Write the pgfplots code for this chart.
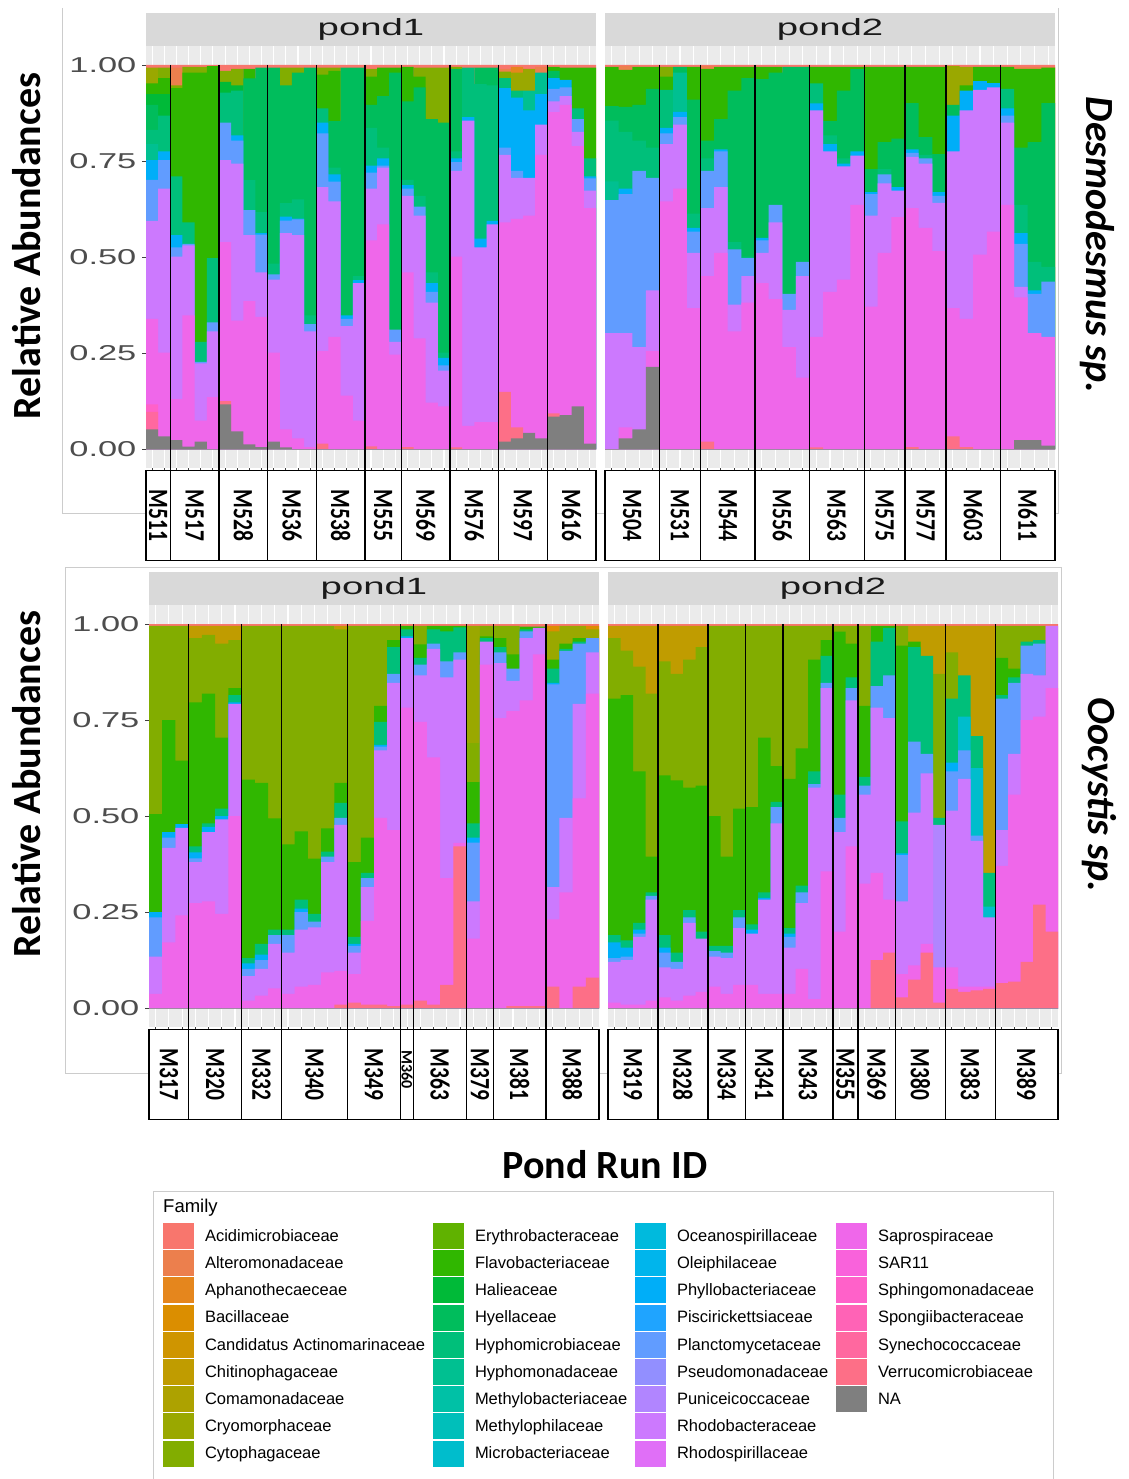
\documentclass[border=0pt]{standalone}
\usepackage{pgfplots}
\pgfplotsset{compat=1.18}
\usepackage{pgfplotstable}
\usepackage{graphicx}
\usepackage{fontspec}
\setmainfont{Liberation Sans}
\newfontfamily\calib{Carlito}

% family colours (hue palette, 33 families + NA)
\definecolor{cAcid}{HTML}{F8766D}
\definecolor{cAlte}{HTML}{EC7F4D}
\definecolor{cApha}{HTML}{E5861D}
\definecolor{cBaci}{HTML}{DB8E00}
\definecolor{cCand}{HTML}{CF9500}
\definecolor{cChit}{HTML}{C09C00}
\definecolor{cComa}{HTML}{ADA200}
\definecolor{cCryo}{HTML}{9AA800}
\definecolor{cCyto}{HTML}{82AD00}
\definecolor{cEryt}{HTML}{60B200}
\definecolor{cFlav}{HTML}{30B700}
\definecolor{cHali}{HTML}{00BA38}
\definecolor{cHyel}{HTML}{00BD5C}
\definecolor{cHmic}{HTML}{00BF7A}
\definecolor{cHmon}{HTML}{00C091}
\definecolor{cMbac}{HTML}{00C1A6}
\definecolor{cMphi}{HTML}{00BFBA}
\definecolor{cMicr}{HTML}{00BDCC}
\definecolor{cOcea}{HTML}{00BADD}
\definecolor{cOlei}{HTML}{00B5EC}
\definecolor{cPhyl}{HTML}{00AEF8}
\definecolor{cPisc}{HTML}{1FA4FF}
\definecolor{cPlan}{HTML}{619CFF}
\definecolor{cPseu}{HTML}{928FFF}
\definecolor{cPuni}{HTML}{B185FF}
\definecolor{cRhob}{HTML}{CC79FE}
\definecolor{cRhsp}{HTML}{E06FF7}
\definecolor{cSapr}{HTML}{EF67EA}
\definecolor{cSAR}{HTML}{F962DB}
\definecolor{cSphi}{HTML}{FF61C9}
\definecolor{cSpon}{HTML}{FF63B6}
\definecolor{cSyne}{HTML}{FF689F}
\definecolor{cVerr}{HTML}{FD6F87}
\definecolor{cNA}{HTML}{7F7F7F}

\definecolor{panelbg}{HTML}{EBEBEB}
\definecolor{stripbg}{HTML}{D9D9D9}
\definecolor{stripfg}{HTML}{1A1A1A}
\definecolor{tickgrey}{HTML}{4D4D4D}
\definecolor{framegrey}{HTML}{CCCCCC}

% cumulative upper edge of each family within every sample bar (0 = absent)
\pgfplotstableread{
x Acid Alte Apha Baci Chit Cryo Cyto Flav Hali Hyel Hmic Hmon Micr Phyl Plan Puni Rhob Sapr Sphi Syne Verr NA
1 1 0 0 0 0 .993 0 .952 .924 .896 .831 .794 0 .752 .701 0 .594 .339 .116 .097 0 .051
2 1 0 0 0 0 0 .993 .966 .924 0 .868 0 0 .775 .752 0 .678 .251 0 0 0 .033
3 1 .993 0 0 0 0 .947 .94 0 0 .71 0 0 .557 .525 0 .501 .13 0 0 0 .023
4 1 0 0 0 0 0 .995 .98 0 0 .59 0 0 0 .534 0 .53 .348 0 0 0 .006
5 1 0 0 0 0 0 .995 .98 0 0 .279 0 0 0 .227 0 .223 .074 0 0 0 .019
6 1 0 0 0 0 0 0 .997 0 0 .497 0 0 0 .33 0 .306 .135 0 0 0 0
7 1 0 0 0 0 0 .985 0 .956 0 .928 0 0 0 .85 0 .752 .539 0 0 .125 .116
8 1 0 0 0 0 0 .99 0 .947 0 .933 0 0 .817 .803 0 .743 .334 0 0 0 .046
9 1 0 0 0 0 0 0 .99 0 .965 .70 0 0 0 .622 0 .557 .385 0 0 0 .012
10 1 0 0 0 0 0 0 0 0 .993 .617 0 0 .562 .558 0 .46 .344 0 0 0 .005
11 1 0 0 0 0 0 0 0 0 .993 .483 0 0 0 .455 0 .441 .251 0 0 0 .019
12 1 0 0 0 0 0 .993 0 0 .947 .64 0 0 .605 .595 0 .562 .051 0 0 0 .004
13 1 0 0 0 0 0 .993 0 0 .98 .65 0 0 .60 .598 0 .557 .028 0 0 0 0
14 1 0 0 0 0 0 0 0 0 .993 .348 0 0 0 .325 0 .306 .005 0 0 0 0
15 1 0 0 0 0 0 .993 .975 0 0 .887 0 0 .85 .822 0 .682 .255 0 0 .014 0
16 1 0 0 0 0 0 .993 .985 0 .854 .733 0 0 .715 .696 0 .645 .292 0 0 0 0
17 1 0 0 0 0 0 0 0 0 .993 0 0 0 .348 .339 0 .32 .139 0 0 0 0
18 1 0 0 0 0 0 0 0 0 .993 .45 0 0 .44 0 0 .432 .074 0 0 0 0
19 1 0 0 0 0 0 .99 .97 0 .896 .836 0 0 .738 .72 0 .678 .543 0 0 .007 0
20 1 0 0 0 0 0 0 .993 0 .919 .785 0 0 .757 .738 0 .733 .585 0 0 0 0
21 1 0 0 0 0 0 0 .993 0 .98 0 0 0 0 .311 0 .279 .246 0 0 0 0
22 1 0 0 0 0 0 0 .995 0 .905 .701 0 0 .687 .678 0 .659 .46 0 0 .005 0
23 1 0 0 0 0 0 .993 .97 0 .942 .659 0 0 0 .631 0 .608 .288 0 0 0 0
24 1 0 0 0 0 0 .993 0 0 .859 .46 0 0 .432 .409 0 .381 .121 0 0 0 0
25 1 0 0 0 0 0 .993 0 0 .85 .251 0 0 .237 .218 0 .204 .111 0 0 0 0
26 1 0 0 0 0 0 .995 0 0 .99 .775 0 0 .757 .747 0 .724 .501 0 0 .004 0
27 1 0 0 0 0 0 0 0 0 0 .993 0 0 .864 0 0 .855 .06 0 0 0 0
28 1 0 0 0 0 0 0 0 0 .993 .95 0 0 .548 0 0 .525 .07 0 0 0 0
29 1 0 0 0 0 0 0 0 0 .993 .947 0 0 .594 0 0 .585 .07 0 0 0 0
30 1 .99 0 0 0 0 .983 0 0 0 .966 0 0 .94 .785 0 .766 .59 0 0 .149 .019
31 1 0 .995 0 0 .98 0 0 0 0 .933 0 0 .915 .724 0 .706 .599 0 0 .056 .028
32 1 0 0 0 0 .99 0 0 0 0 0 .933 0 .882 0 0 .706 .608 0 0 0 .042
33 1 .995 0 0 0 0 0 0 0 0 0 .98 0 .924 0 0 .845 .766 0 0 0 .028
34 1 0 0 0 0 0 0 .995 0 .985 0 0 0 .966 .938 0 .905 .877 0 0 .093 .084
35 1 0 0 0 0 0 0 .993 0 0 0 0 0 .961 .942 0 .919 .896 0 0 0 .088
36 1 0 0 0 0 0 0 .993 0 0 .887 0 0 0 .859 0 .826 .789 0 0 0 .111
37 1 0 0 0 0 0 0 .993 0 0 .757 0 0 .71 .705 0 .673 .627 0 0 0 .014
}\tabA

\pgfplotstableread{
x Acid Alte Apha Baci Chit Cryo Cyto Flav Hali Hyel Hmic Hmon Micr Phyl Plan Puni Rhob Sapr Sphi Syne Verr NA
1 1 0 0 0 0 0 0 .995 0 .893 .855 .697 0 0 .648 0 .302 0 0 0 0 0
2 1 .998 0 0 0 0 0 .987 0 .891 .826 0 0 .678 .664 0 .302 .056 0 0 0 .028
3 1 0 0 0 0 0 0 .995 0 .896 .803 0 0 0 .724 0 .265 0 0 0 0 .051
4 1 0 0 0 0 0 0 .995 0 .938 .785 0 0 0 .706 0 .413 .255 0 0 0 .214
5 1 0 0 0 0 0 .995 .97 0 0 .935 0 0 .836 .822 0 .794 .645 0 0 0 0
6 1 0 0 0 0 0 0 0 0 .995 0 .98 0 .878 .864 0 .845 .678 0 0 0 0
7 1 0 0 0 0 0 0 .995 0 .91 .613 0 0 .576 .566 0 .511 .367 0 0 0 0
8 1 .997 0 0 0 0 0 .99 0 .803 .757 0 0 0 .724 0 .627 .45 0 0 .019 0
9 1 0 0 0 0 0 0 .995 0 .859 0 0 0 .78 .775 0 .682 .511 0 0 0 0
10 1 0 0 0 0 0 0 .995 0 .933 .539 0 0 0 .52 0 .376 .306 0 0 0 0
11 1 0 0 0 0 0 0 .995 0 .966 .501 0 0 0 .497 0 .45 .381 0 0 0 0
12 1 0 0 0 0 0 0 .995 0 .963 0 0 0 .55 .543 0 .511 .432 0 0 0 0
13 1 0 0 0 0 0 0 .995 0 .98 0 0 0 0 .636 0 .59 .39 0 0 0 0
14 1 0 0 0 0 0 0 0 0 .995 0 0 0 0 .404 0 .362 .265 0 0 0 0
15 1 0 0 0 0 0 0 0 0 .995 0 0 0 0 .487 0 .45 .186 0 0 0 0
16 1 0 0 0 0 0 0 .995 0 0 .952 0 0 .9 0 0 .882 .292 0 0 .004 0
17 1 0 0 0 0 0 0 .995 0 .854 .817 0 0 .794 0 0 .775 .409 0 0 0 0
18 1 0 0 0 0 0 0 .995 0 .933 .757 0 0 .743 0 0 .736 .441 0 0 0 0
19 1 0 0 0 0 0 0 .995 0 .989 0 0 0 .775 0 0 .764 .636 0 0 0 0
20 1 0 0 0 0 0 0 .995 0 .729 0 0 0 .669 .664 0 .608 .371 0 0 0 0
21 1 0 0 0 0 0 0 .995 0 .799 .729 0 0 0 .715 0 .692 .511 0 0 0 0
22 1 0 0 0 0 0 0 .995 0 .808 0 0 0 .682 0 0 .673 .604 0 0 0 0
23 1 0 0 0 0 0 0 .995 0 .901 0 0 0 .78 .771 0 .761 .627 0 0 .005 0
24 1 0 0 0 0 0 0 .995 0 .812 .766 0 0 0 .757 0 .743 .576 0 0 0 0
25 1 0 0 0 0 0 0 .995 0 .768 0 0 0 .669 .659 0 .641 .515 0 0 0 0
26 1 0 0 0 0 .998 0 0 0 .896 0 0 0 .868 0 0 .775 .367 0 0 .033 0
27 1 0 0 0 0 .995 0 .947 0 0 0 0 0 .933 0 0 .882 .339 0 0 .005 0
28 1 0 0 0 0 0 0 .995 0 0 0 0 0 .958 0 0 .935 .506 0 0 0 0
29 1 0 0 0 0 0 0 .995 0 0 0 0 0 .953 0 0 .942 .566 0 0 0 0
30 1 0 0 0 0 0 0 .995 0 0 .938 0 0 .887 .868 0 .85 .636 0 0 0 0
31 1 .995 0 0 0 0 0 .99 0 .785 .636 0 0 .562 .534 0 .422 .395 0 0 0 .023
32 1 .995 0 0 0 0 0 .99 0 .799 .487 0 0 .413 .404 0 0 .302 0 0 0 .023
33 1 .995 0 0 0 0 0 .993 0 .901 .474 0 0 0 .436 0 0 .292 0 0 0 .009
}\tabB

\pgfplotstableread{
x Acid Alte Apha Baci Chit Cryo Cyto Flav Hali Hyel Hmic Hmon Micr Phyl Plan Puni Rhob Sapr Sphi Syne Verr NA
1 1 0 0 0 0 0 .995 .505 0 0 0 0 0 .25 .236 0 .134 .037 0 0 0 0
2 1 0 0 0 0 0 .995 .75 0 0 0 0 0 .458 .444 0 .417 .171 0 0 0 0
3 1 0 0 0 0 0 .995 .644 0 0 0 0 0 .479 0 0 .469 .241 0 0 0 0
4 1 0 0 0 .995 0 .963 .796 0 0 .421 0 0 .405 .39 0 .38 .273 0 0 0 0
5 1 0 0 0 .995 0 .972 .819 0 0 .481 0 0 .472 0 0 .458 .278 0 0 0 0
6 1 0 0 0 .995 0 .949 .704 0 0 .519 0 0 .5 0 0 .491 .245 0 0 0 0
7 1 0 0 0 .995 0 .958 .833 0 0 .815 0 0 .796 0 0 .792 .5 0 0 0 0
8 1 0 0 0 0 0 .995 .595 0 0 .13 0 0 .116 .102 0 .083 .019 0 0 0 0
9 1 0 0 0 0 0 .995 .586 0 0 .167 0 0 .139 .125 0 .102 .032 0 0 0 0
10 1 0 0 0 0 0 .995 .494 0 0 .204 0 0 0 .19 0 .167 .051 0 0 0 0
11 1 0 0 0 0 0 .995 .426 0 0 .204 0 0 0 .19 0 .144 .037 0 0 0 0
12 1 0 0 0 0 0 .995 .46 0 0 .282 0 0 .259 .25 0 .204 .056 0 0 0 0
13 1 0 0 0 0 0 .995 .389 0 0 .245 0 0 0 .225 0 .21 .06 0 0 0 0
14 1 0 0 0 0 0 .995 .468 0 0 .407 0 0 0 .394 0 .38 .093 0 0 0 0
15 1 0 0 0 .995 0 .986 .586 0 0 .534 0 0 0 .495 0 .477 .097 0 0 .009 0
16 1 0 0 0 0 0 .995 .38 0 0 .185 0 0 .167 .162 0 .144 .088 0 0 .014 0
17 1 0 0 0 0 0 .995 .444 0 0 .352 0 0 0 .338 0 .315 .227 0 0 .009 0
18 1 0 0 0 0 0 .995 .787 0 0 .745 0 0 .685 .681 0 .671 .495 0 0 .009 0
19 1 0 0 0 0 0 .995 .958 0 0 .94 0 0 0 .87 0 .847 .463 0 0 .005 0
20 1 0 0 0 0 0 0 .995 0 0 .986 0 0 .968 0 0 .963 .782 0 0 .009 0
21 1 0 0 0 0 0 .995 .947 0 0 .912 0 0 0 .894 0 .866 .745 0 0 .019 0
22 1 0 0 0 0 0 0 .995 0 0 .986 0 0 0 .949 0 .935 .653 0 0 .009 0
23 1 0 0 0 0 0 0 .995 0 0 .981 0 0 0 .903 0 .861 .338 0 0 .06 0
24 1 0 0 0 0 0 0 .995 0 0 .991 0 0 0 .926 0 .907 .43 0 0 .421 0
25 1 0 0 0 0 .995 .69 .588 0 0 .481 0 0 .444 .431 0 .278 .181 0 0 0 0
26 1 0 0 0 0 0 .995 .968 0 0 .963 0 0 0 0 0 .954 .894 0 0 0 0
27 1 0 0 0 0 0 .995 .963 0 0 .94 0 0 0 .926 0 .898 .755 0 0 0 0
28 1 0 0 0 0 0 .995 .921 0 0 0 0 0 0 .884 0 .852 .773 0 0 .005 0
29 1 0 0 0 0 0 0 .993 0 0 .986 0 0 0 .981 0 .963 .801 0 0 .005 0
30 1 0 0 0 0 0 0 .993 0 0 0 0 0 0 0 0 .99 .921 0 0 .005 0
31 1 0 0 .995 0 .981 0 .907 0 0 .884 0 0 .847 .843 0 .315 .231 0 0 .056 0
32 1 0 0 0 0 .995 0 .949 0 0 .935 0 0 0 .93 0 .495 .301 0 0 0 0
33 1 0 0 0 0 .995 0 .963 0 0 .954 0 0 0 .949 0 .792 .546 0 0 .056 0
34 1 0 0 .995 0 .986 0 0 0 0 0 0 0 0 .963 0 .926 .819 0 0 .079 0
}\tabC

\pgfplotstableread{
x Acid Alte Apha Baci Chit Cryo Cyto Flav Hali Hyel Hmic Hmon Micr Phyl Plan Puni Rhob Sapr Sphi Syne Verr NA
1 1 0 0 0 .995 0 .963 .806 0 0 .19 0 0 .171 .13 0 .12 .014 0 0 0 0
2 1 0 0 0 .995 0 .931 .815 0 0 .176 0 0 .157 .134 0 .125 .009 0 0 0 0
3 1 0 0 0 .995 0 .889 .616 0 0 .222 0 0 .204 .194 0 .185 .009 0 0 0 0
4 1 0 0 0 .995 0 .819 .394 0 0 .301 0 0 0 .292 0 .282 .019 0 0 0 0
5 1 0 0 0 .995 0 .903 .606 0 0 .19 0 0 .157 .144 0 .106 .028 0 0 0 0
6 1 0 0 0 .995 0 .87 .593 0 0 .144 0 0 0 .12 0 .102 .019 0 0 0 0
7 1 0 0 0 .995 0 .907 .574 0 0 .255 0 0 0 .236 0 .222 .032 0 0 0 0
8 1 0 0 0 .995 0 .94 .579 0 0 .199 0 0 0 0 0 .181 .042 0 0 0 0
9 1 0 0 0 0 0 .995 .5 0 0 .162 0 0 0 .148 0 .134 .056 0 0 0 0
10 1 0 0 0 0 0 .995 .394 0 0 .162 0 0 0 .144 0 .13 .037 0 0 0 0
11 1 0 0 0 0 0 .995 .519 0 0 .255 0 0 0 .236 0 .208 .06 0 0 0 0
12 1 0 0 0 0 0 .995 .523 0 0 .218 0 0 .204 0 0 .194 .06 0 0 0 0
13 1 0 0 0 0 0 .995 .704 0 0 .301 0 0 .287 0 0 .282 .037 0 0 0 0
14 1 0 0 0 0 0 .995 .63 0 0 .537 0 0 0 .523 0 .481 .037 0 0 0 0
15 1 0 0 0 0 0 .995 .597 0 0 .208 0 0 .194 .185 0 .157 .037 0 0 0 0
16 1 0 0 0 0 0 .995 .676 0 0 .319 0 0 0 .301 0 .273 .102 0 0 0 0
17 1 0 0 0 0 0 .995 .907 0 0 .616 0 0 0 .583 0 .574 .023 0 0 0 0
18 1 0 0 0 0 0 .995 .958 0 0 .917 0 0 0 .847 0 .833 .356 0 0 0 0
19 1 0 0 0 0 0 .995 .98 0 0 .556 0 0 0 .495 0 .458 .199 0 0 0 0
20 1 0 0 0 0 0 .995 .949 0 0 .861 0 0 0 .833 0 .801 .421 0 0 0 0
21 1 0 0 0 0 0 .995 .787 0 0 .602 0 0 0 .579 0 .556 .324 0 0 0 0
22 1 0 0 0 0 0 0 .995 0 0 .954 0 0 0 .838 0 .782 .352 0 0 .125 0
23 1 0 0 0 0 0 0 .995 0 0 .99 0 0 0 .866 0 .755 .282 0 0 .144 0
24 1 0 0 0 0 0 .995 .944 0 0 .486 0 0 .403 .398 0 .278 .088 0 0 .028 0
25 1 0 0 0 .995 0 0 .954 0 0 .94 0 0 0 .694 0 .509 .111 0 0 .074 0
26 1 0 0 0 .995 0 0 0 0 0 .917 0 0 0 .662 0 .611 .167 0 0 .144 0
27 1 0 0 0 .995 0 .87 0 0 0 .495 0 0 0 0 .477 0 .106 0 0 .014 0
28 1 0 0 0 .995 0 .926 0 0 0 .806 0 0 .639 .616 0 .514 .106 0 0 .05 0
29 1 0 0 0 .995 0 0 0 0 0 .866 0 .759 0 .671 0 .597 .056 0 0 .042 0
30 1 0 0 0 .995 0 0 0 0 0 .708 0 .625 0 .449 0 .435 .056 0 0 .046 0
31 1 0 0 0 .995 0 0 0 0 0 .352 0 .264 0 0 0 .236 .056 0 0 .05 0
32 1 0 0 0 0 0 .995 .912 0 0 .815 0 0 0 .806 0 .463 .37 0 0 .065 0
33 1 0 0 0 0 0 .995 .884 0 0 .861 0 0 0 .847 0 .662 .556 0 0 .069 0
34 1 0 0 0 0 0 .995 0 0 0 .954 0 0 0 .944 0 .87 .75 0 0 .12 0
35 1 0 0 0 0 0 .995 0 0 0 .958 0 0 0 .949 0 .866 .759 0 0 .269 0
36 1 0 0 0 0 0 0 0 0 0 0 0 0 0 0 0 .995 .833 0 0 .199 0
}\tabD

% each family is drawn as a bar up to its cumulative edge, top family first
\newcommand{\stackbars}[1]{%
  \pgfplotsinvokeforeach{Acid,Alte,Apha,Baci,Chit,Cryo,Cyto,Flav,Hali,Hyel,Hmic,Hmon,Micr,Phyl,Plan,Puni,Rhob,Sapr,Sphi,Syne,Verr,NA}{%
    \addplot[ybar, bar width=1, bar shift=0pt, fill=c##1, draw=none] table[x=x, y=##1] {#1};
  }%
}

\newcommand{\ticfont}{\fontsize{21.5}{24}\selectfont}
\newcommand{\stripfont}{\fontsize{23.5}{26}\selectfont}
\newcommand{\runfont}{\calib\bfseries\fontsize{21.5}{24}\selectfont}
\newcommand{\bigfont}{\calib\bfseries\fontsize{40}{44}\selectfont}

\pgfplotsset{
  panel/.style={
    scale only axis, width=450pt, height=422.4pt,
    ymin=-0.05, ymax=1.05, xmin=0.5,
    axis line style={draw=none},
    axis background/.style={fill=panelbg},
    xmajorgrids, grid style={white, line width=1.1pt},
    xticklabels={}, xtick pos=bottom,
    tick align=outside, major tick length=4pt,
    tick style={color=black!75, line width=0.9pt},
    clip=false,
  },
  ylab/.style={ytick={0,0.25,0.5,0.75,1}, yticklabels={0.00,0.25,0.50,0.75,1.00},
    ytick pos=left, yticklabel style={font=\ticfont, text=tickgrey, xscale=1.6, anchor=east}},
  noylab/.style={ytick=\empty},
}

% facet strip with its title
\newcommand{\strip}[1]{%
  \fill[stripbg] (rel axis cs:0,1) rectangle ([yshift=33pt]rel axis cs:1,1);
  \node[font=\stripfont, text=stripfg, xscale=1.63] at ([yshift=16pt]rel axis cs:0.5,1) {#1};
}
% sample boxes below the panel and the separators between runs
\newcommand{\runs}[2]{%
  \foreach \a/\b/\lab in {#1}{%
    \draw[black, line width=1.1pt, fill=white] (axis cs:\a,-0.0552) rectangle (axis cs:\b,-0.2896);
    \node[font=\runfont, rotate=-90] at (axis cs:{(\a+\b)/2},-0.1724) {\scalebox{1}[1.3]{\lab}};
  }%
  \foreach \s in {#2}{%
    \draw[black, line width=1.2pt] (axis cs:\s,1) -- (axis cs:\s,-0.2896);
  }%
}

\newcommand{\wA}[1]{\makebox[228pt][l]{#1}}
\newcommand{\wB}[1]{\makebox[160pt][l]{#1}}
\newcommand{\wC}[1]{\makebox[159pt][l]{#1}}
\newcommand{\wD}[1]{\makebox[150pt][l]{#1}}
\newcommand{\leg}[3]{\addlegendimage{fill=#1}\addlegendentry{#2{#3}}}

\begin{document}
\begin{tikzpicture}[x=1pt, y=1pt]
\useasboundingbox (0,0) rectangle (1128,-1479);

% frames of the two plot images and of the legend
\draw[framegrey, line width=1pt] (62,-8) -- (62,-513) -- (1058,-513) -- (1058,-8);
\draw[framegrey, line width=1pt] (65,-567) rectangle (1061,-1073);
\draw[framegrey, line width=1pt] (153,-1191) rectangle (1053,-1500);

% ---------------- Desmodesmus sp., pond1
\begin{axis}[panel, ylab, at={(146pt,-45.8pt)}, anchor=north west,
  xmax=37.5, xtick={1,...,37}]
\stackbars{\tabA}
\pgfplotsextra{%
  \strip{pond1}
  \runs{0.5/2.5/M511, 2.5/6.5/M517, 6.5/10.5/M528, 10.5/14.5/M536, 14.5/18.5/M538,
        18.5/21.5/M555, 21.5/25.5/M569, 25.5/29.5/M576, 29.5/33.5/M597, 33.5/37.5/M616}
       {2.5,6.5,10.5,14.5,18.5,21.5,25.5,29.5,33.5}
}
\end{axis}

% ---------------- Desmodesmus sp., pond2
\begin{axis}[panel, noylab, at={(605pt,-45.8pt)}, anchor=north west,
  xmax=33.5, xtick={1,...,33}]
\stackbars{\tabB}
\pgfplotsextra{%
  \strip{pond2}
  \runs{0.5/4.5/M504, 4.5/7.5/M531, 7.5/11.5/M544, 11.5/15.5/M556, 15.5/19.5/M563,
        19.5/22.5/M575, 22.5/25.5/M577, 25.5/29.5/M603, 29.5/33.5/M611}
       {4.5,7.5,11.5,15.5,19.5,22.5,25.5,29.5}
}
\end{axis}

% ---------------- Oocystis sp., pond1
\begin{axis}[panel, ylab, at={(149pt,-604.8pt)}, anchor=north west,
  xmax=34.5, xtick={1,...,34}]
\stackbars{\tabC}
\pgfplotsextra{%
  \strip{pond1}
  \runs{0.5/3.5/M317, 3.5/7.5/M320, 7.5/10.5/M332, 10.5/15.5/M340, 15.5/19.5/M349,
        20.5/24.5/M363, 24.5/26.5/M379, 26.5/30.5/M381, 30.5/34.5/M388}
       {3.5,7.5,10.5,15.5,19.5,20.5,24.5,26.5,30.5}
  \draw[black, line width=1.1pt, fill=white] (axis cs:19.5,-0.0552) rectangle (axis cs:20.5,-0.2896);
  \draw[black, line width=1.2pt] (axis cs:19.5,1) -- (axis cs:19.5,-0.2896);
  \draw[black, line width=1.2pt] (axis cs:20.5,1) -- (axis cs:20.5,-0.2896);
  \node[font=\calib\bfseries\fontsize{16}{18}\selectfont, rotate=-90] at (axis cs:20,-0.16) {M360};
}
\end{axis}

% ---------------- Oocystis sp., pond2
\begin{axis}[panel, noylab, at={(608pt,-604.8pt)}, anchor=north west,
  xmax=36.5, xtick={1,...,36}]
\stackbars{\tabD}
\pgfplotsextra{%
  \strip{pond2}
  \runs{0.5/4.5/M319, 4.5/8.5/M328, 8.5/11.5/M334, 11.5/14.5/M341, 14.5/18.5/M343,
        18.5/20.5/M355, 20.5/23.5/M369, 23.5/27.5/M380, 27.5/31.5/M383, 31.5/36.5/M389}
       {4.5,8.5,11.5,14.5,18.5,20.5,23.5,27.5,31.5}
}
\end{axis}

% titles
\node[font=\bigfont, rotate=90] at (27,-246) {Relative Abundances};
\node[font=\bigfont, rotate=90] at (27,-784) {Relative Abundances};
\node[font=\calib\bfseries\itshape\fontsize{40}{44}\selectfont, rotate=-90] at (1097,-245) {Desmodesmus sp.};
\node[font=\calib\bfseries\itshape\fontsize{40}{44}\selectfont, rotate=-90] at (1099,-795) {Oocystis sp.};
\node[font=\bigfont] at (605,-1165) {Pond Run ID};

% legend
\node[font=\fontsize{18.5}{20}\selectfont, anchor=west, inner sep=0pt] at (163,-1208) {Family};
\begin{axis}[at={(163pt,-1223pt)}, anchor=north west, hide axis, scale only axis,
  width=1pt, height=1pt, xmin=0, xmax=1, ymin=0, ymax=1,
  legend columns=4, legend cell align=left,
  legend image code/.code={\fill[#1, draw=none] (0pt,-13pt) rectangle (31pt,13pt);},
  legend style={at={(0,1)}, anchor=north west, draw=none, fill=none,
    inner sep=0pt, outer sep=0pt, font=\fontsize{16.5}{18}\selectfont,
    row sep=1.2pt, column sep=0pt,
    nodes={inner sep=0pt, anchor=west},
    /tikz/every odd column/.append style={column sep=11pt},
    /tikz/every even column/.append style={column sep=0pt}},
]
\leg{cAcid}{\wA}{Acidimicrobiaceae}\leg{cEryt}{\wB}{Erythrobacteraceae}\leg{cOcea}{\wC}{Oceanospirillaceae}\leg{cSapr}{\wD}{Saprospiraceae}
\leg{cAlte}{\wA}{Alteromonadaceae}\leg{cFlav}{\wB}{Flavobacteriaceae}\leg{cOlei}{\wC}{Oleiphilaceae}\leg{cSAR}{\wD}{SAR11}
\leg{cApha}{\wA}{Aphanothecaeceae}\leg{cHali}{\wB}{Halieaceae}\leg{cPhyl}{\wC}{Phyllobacteriaceae}\leg{cSphi}{\wD}{Sphingomonadaceae}
\leg{cBaci}{\wA}{Bacillaceae}\leg{cHyel}{\wB}{Hyellaceae}\leg{cPisc}{\wC}{Piscirickettsiaceae}\leg{cSpon}{\wD}{Spongiibacteraceae}
\leg{cCand}{\wA}{Candidatus Actinomarinaceae}\leg{cHmic}{\wB}{Hyphomicrobiaceae}\leg{cPlan}{\wC}{Planctomycetaceae}\leg{cSyne}{\wD}{Synechococcaceae}
\leg{cChit}{\wA}{Chitinophagaceae}\leg{cHmon}{\wB}{Hyphomonadaceae}\leg{cPseu}{\wC}{Pseudomonadaceae}\leg{cVerr}{\wD}{Verrucomicrobiaceae}
\leg{cComa}{\wA}{Comamonadaceae}\leg{cMbac}{\wB}{Methylobacteriaceae}\leg{cPuni}{\wC}{Puniceicoccaceae}\leg{cNA}{\wD}{NA}
\leg{cCryo}{\wA}{Cryomorphaceae}\leg{cMphi}{\wB}{Methylophilaceae}\leg{cRhob}{\wC}{Rhodobacteraceae}\addlegendimage{empty legend}\addlegendentry{}
\leg{cCyto}{\wA}{Cytophagaceae}\leg{cMicr}{\wB}{Microbacteriaceae}\leg{cRhsp}{\wC}{Rhodospirillaceae}\addlegendimage{empty legend}\addlegendentry{}
\end{axis}
\end{tikzpicture}
\end{document}
